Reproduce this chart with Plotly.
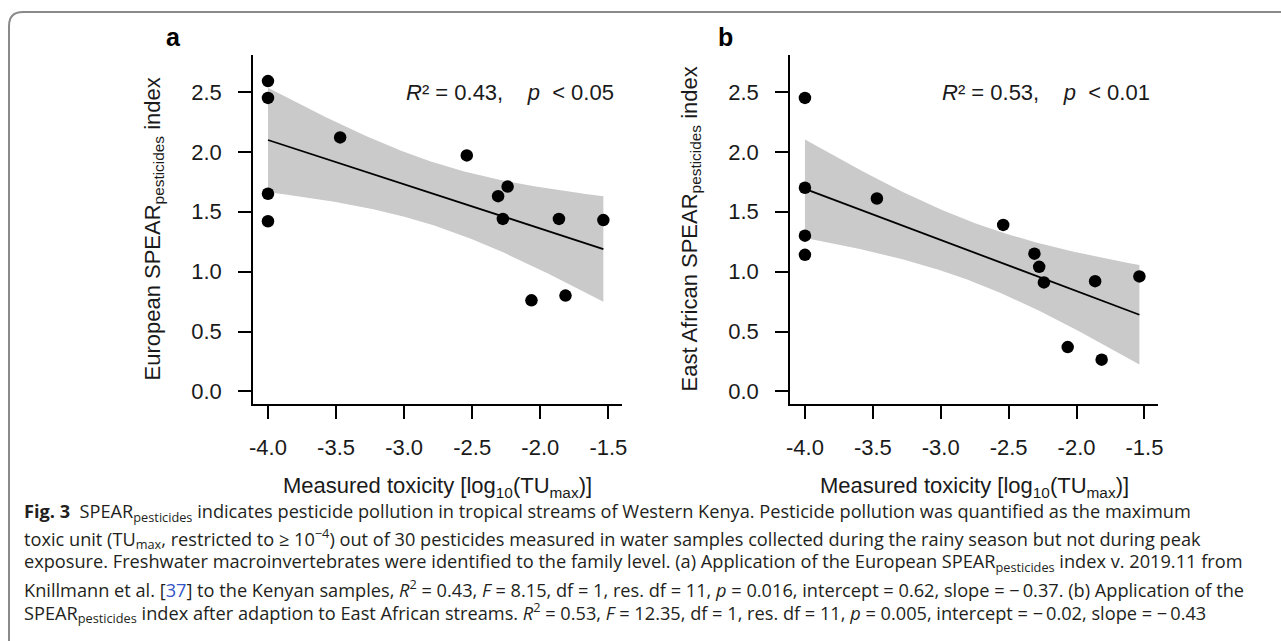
import numpy as np
import plotly.graph_objects as go

# ---------------- data ----------------
toxicity = [-4.0, -4.0, -4.0, -4.0, -3.47, -2.54, -2.31, -2.275, -2.24, -2.065, -1.863, -1.815, -1.537]
spear_european = [2.59, 2.45, 1.65, 1.42, 2.12, 1.97, 1.63, 1.44, 1.71, 0.76, 1.44, 0.80, 1.43]
spear_east_african = [2.45, 1.70, 1.30, 1.14, 1.61, 1.39, 1.15, 1.04, 0.91, 0.37, 0.92, 0.265, 0.96]

x_tick_vals = [-4.0, -3.5, -3.0, -2.5, -2.0, -1.5]
x_tick_labels = ["-4.0", "-3.5", "-3.0", "-2.5", "-2.0", "-1.5"]
y_tick_vals = [0.0, 0.5, 1.0, 1.5, 2.0, 2.5]
y_tick_labels = ["0.0", "0.5", "1.0", "1.5", "2.0", "2.5"]

panel_letters = ["a", "b"]
stat_labels = ["<i>R</i>²\u00a0=\u00a00.43,\u00a0\u00a0\u00a0\u00a0<i>p</i>\u00a0\u00a0<\u00a00.05",
               "<i>R</i>²\u00a0=\u00a00.53,\u00a0\u00a0\u00a0\u00a0<i>p</i>\u00a0\u00a0<\u00a00.01"]
y_titles = ["European SPEAR<sub>pesticides</sub> index",
            "East African SPEAR<sub>pesticides</sub> index"]
x_title = "Measured toxicity [log<sub>10</sub>(TU<sub>max</sub>)]"

T_975_DF11 = 2.200985  # Student t quantile, 11 residual df

EQ = "\u00a0=\u00a0"
MN = "−\u2009"
caption_lines = [
    "<b>Fig. 3</b>\u00a0\u00a0SPEAR<sub>pesticides</sub> indicates pesticide pollution in tropical streams of Western Kenya. Pesticide pollution was quantified as the maximum",
    "toxic unit (TU<sub>max</sub>, restricted to ≥ 10<sup>−4</sup>) out of 30 pesticides measured in water samples collected during the rainy season but not during peak",
    "exposure. Freshwater macroinvertebrates were identified to the family level. (a) Application of the European SPEAR<sub>pesticides</sub> index v. 2019.11 from",
    "Knillmann et al. [<span style='color:#3455c8'>37</span>] to the Kenyan samples, <i>R</i><sup>2</sup>" + EQ + "0.43, <i>F</i>" + EQ + "8.15, df" + EQ + "1, res. df" + EQ + "11, <i>p</i>" + EQ + "0.016, intercept" + EQ + "0.62, slope" + EQ + MN + "0.37. (b) Application of the",
    "SPEAR<sub>pesticides</sub> index after adaption to East African streams. <i>R</i><sup>2</sup>" + EQ + "0.53, <i>F</i>" + EQ + "12.35, df" + EQ + "1, res. df" + EQ + "11, <i>p</i>" + EQ + "0.005, intercept" + EQ + MN + "0.02, slope" + EQ + MN + "0.43",
]

# ---------------- layout geometry ----------------
W, H = 1281, 641


def fx(px):
    return px / W


def fy(py):
    return 1 - py / H


x_domains = [[fx(253), fx(622)], [fx(790), fx(1158)]]
y_domain = [fy(404), fy(55)]
x_range = [-4.11, -1.40]
y_range = [-0.105, 2.808]

CHART_FONT = "Liberation Sans, Arial, sans-serif"
CAPTION_FONT = "Open Sans, sans-serif"


def fit_band(x, y, npts=120):
    X = np.asarray(x, float)
    Y = np.asarray(y, float)
    n = len(X)
    b1, b0 = np.polyfit(X, Y, 1)
    resid = Y - (b0 + b1 * X)
    s = np.sqrt(np.sum(resid ** 2) / (n - 2))
    xm = X.mean()
    sxx = np.sum((X - xm) ** 2)
    xs = np.linspace(X.min(), X.max(), npts)
    yhat = b0 + b1 * xs
    se = s * np.sqrt(1.0 / n + (xs - xm) ** 2 / sxx)
    return xs, yhat, yhat - T_975_DF11 * se, yhat + T_975_DF11 * se


fig = go.Figure()

for i, yvals in enumerate([spear_european, spear_east_african]):
    xa = "x" if i == 0 else "x2"
    ya = "y" if i == 0 else "y2"
    xs, yhat, lo, hi = fit_band(toxicity, yvals)
    fig.add_trace(go.Scatter(
        x=np.concatenate([xs, xs[::-1]]), y=np.concatenate([hi, lo[::-1]]),
        fill="toself", fillcolor="#cacaca", line=dict(width=0), mode="lines",
        hoverinfo="skip", showlegend=False, xaxis=xa, yaxis=ya))
    fig.add_trace(go.Scatter(
        x=xs, y=yhat, mode="lines", line=dict(color="black", width=1.8),
        showlegend=False, xaxis=xa, yaxis=ya))
    fig.add_trace(go.Scatter(
        x=toxicity, y=yvals, mode="markers",
        marker=dict(color="black", size=12.5, line=dict(width=0)),
        showlegend=False, xaxis=xa, yaxis=ya))

axis_common = dict(
    showgrid=False, zeroline=False, showline=True, linecolor="black", linewidth=1.6,
    ticks="outside", ticklen=13, tickwidth=1.6, tickcolor="black",
    tickfont=dict(family=CHART_FONT, size=22, color="#1a1a1a"),
    automargin=False, fixedrange=True,
)

layout_axes = {}
for i in range(2):
    sfx = "" if i == 0 else "2"
    layout_axes["xaxis" + sfx] = dict(
        axis_common, domain=x_domains[i], range=x_range,
        tickmode="array", tickvals=x_tick_vals, ticktext=x_tick_labels,
        anchor="y" + sfx, ticklabelstandoff=10)
    layout_axes["yaxis" + sfx] = dict(
        axis_common, domain=y_domain, range=y_range,
        tickmode="array", tickvals=y_tick_vals, ticktext=y_tick_labels,
        anchor="x" + sfx, ticklabelstandoff=12)

annotations = []
letter_x = [173, 725]
stat_x = [404, 940]
ytitle_x = [153, 690]
xtitle_x = [437.5, 974]
for i in range(2):
    annotations.append(dict(
        text="<b>%s</b>" % panel_letters[i], x=fx(letter_x[i]), y=fy(37),
        xref="paper", yref="paper", showarrow=False, xanchor="center", yanchor="middle",
        font=dict(family=CHART_FONT, size=25, color="black")))
    annotations.append(dict(
        text=stat_labels[i], x=fx(stat_x[i]), y=fy(92),
        xref="paper", yref="paper", showarrow=False, xanchor="left", yanchor="middle",
        font=dict(family=CHART_FONT, size=22, color="#1a1a1a")))
    annotations.append(dict(
        text=y_titles[i], x=fx(ytitle_x[i]), y=fy(229.5), textangle=-90,
        xref="paper", yref="paper", showarrow=False, xanchor="center", yanchor="middle",
        font=dict(family=CHART_FONT, size=22, color="#1a1a1a")))
    annotations.append(dict(
        text=x_title, x=fx(xtitle_x[i]), y=fy(487),
        xref="paper", yref="paper", showarrow=False, xanchor="center", yanchor="middle",
        font=dict(family=CHART_FONT, size=22, color="#1a1a1a")))

caption_y = [512, 538, 562, 588, 612]
for line, cy in zip(caption_lines, caption_y):
    annotations.append(dict(
        text=line, x=fx(22), y=fy(cy), xref="paper", yref="paper", showarrow=False,
        xanchor="left", yanchor="middle", align="left",
        font=dict(family=CAPTION_FONT, size=18.2, color="#231f20")))

# card border with rounded top-left corner
r = 14
card_path = "M %f,%f L %f,%f Q %f,%f %f,%f L %f,%f" % (
    fx(9), fy(H + 5), fx(9), fy(12 + r), fx(9), fy(12), fx(9 + r), fy(12), fx(W + 5), fy(12))

fig.update_layout(
    width=W, height=H, autosize=False,
    margin=dict(l=0, r=0, t=0, b=0, pad=0),
    paper_bgcolor="white", plot_bgcolor="white",
    showlegend=False,
    annotations=annotations,
    shapes=[dict(type="path", path=card_path, xref="paper", yref="paper",
                 line=dict(color="#8a8a8a", width=2))],
    **layout_axes,
)

fig.write_html("out.html", config={"displayModeBar": False})
